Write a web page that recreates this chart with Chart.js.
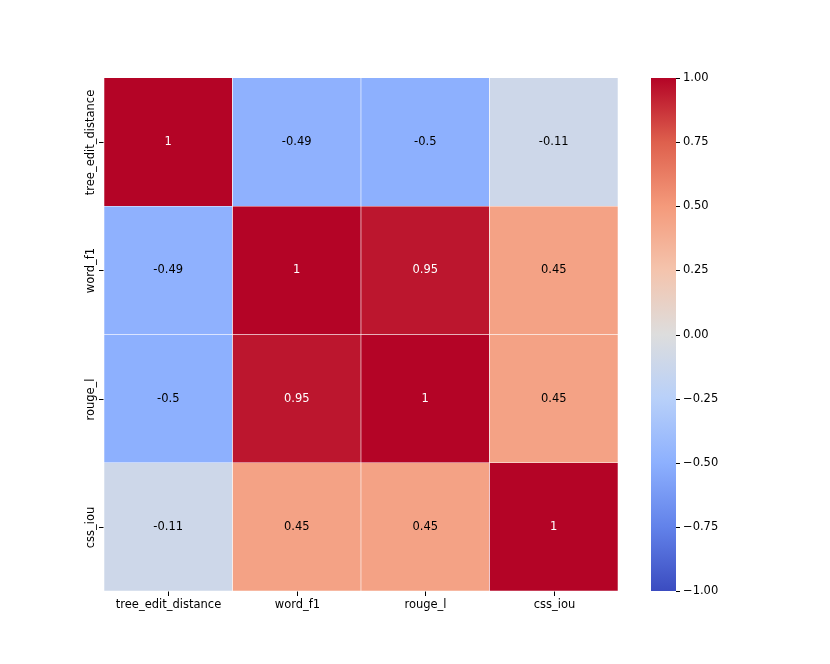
<!DOCTYPE html>
<html>
<head>
<meta charset="utf-8">
<script src="https://cdn.jsdelivr.net/npm/chart.js@4"></script>
<style>
  html, body { margin: 0; padding: 0; background: #fff; }
  #wrap { width: 830px; height: 664px; }
</style>
</head>
<body>
<div id="wrap"><canvas id="heatmap"></canvas></div>
<script>
const metrics = ['tree_edit_distance', 'word_f1', 'rouge_l', 'css_iou'];

// correlation rows
const rowTreeEdit = [1, -0.49, -0.5, -0.11];
const rowWordF1 = [-0.49, 1, 0.95, 0.45];
const rowRougeL = [-0.5, 0.95, 1, 0.45];
const rowCssIou = [-0.11, 0.45, 0.45, 1];
const rows = [rowTreeEdit, rowWordF1, rowRougeL, rowCssIou];

const cbarTicks = [1, 0.75, 0.5, 0.25, 0, -0.25, -0.5, -0.75, -1];

// coolwarm anchors (t from 0 to 1)
const coolwarm = [
  [59, 76, 192], [98, 130, 234], [141, 176, 254], [184, 208, 249],
  [221, 221, 221], [244, 196, 173], [244, 154, 123], [222, 96, 77], [180, 4, 38]
];

function cmap(v) {
  const t = Math.max(0, Math.min(1, (v + 1) / 2)) * (coolwarm.length - 1);
  const i = Math.min(Math.floor(t), coolwarm.length - 2);
  const f = t - i;
  const a = coolwarm[i], b = coolwarm[i + 1];
  const c = a.map((x, k) => Math.round(x + (b[k] - x) * f));
  return `rgb(${c[0]},${c[1]},${c[2]})`;
}

const FONT = '11.5px "DejaVu Sans"';

const datasets = rows.map((row, i) => ({
  label: metrics[i],
  data: row.map(() => 1),
  backgroundColor: row.map(cmap),
  borderColor: '#fff',
  borderWidth: 0.6,
  barPercentage: 1,
  categoryPercentage: 1,
  yAxisID: 'y'
}));

function tick(c, x1, y1, x2, y2) {
  c.beginPath();
  c.moveTo(x1, y1);
  c.lineTo(x2, y2);
  c.stroke();
}

const heatPlugin = {
  id: 'heatExtras',
  afterDraw(chart) {
    const c = chart.ctx;
    const area = chart.chartArea;
    c.save();
    c.setLineDash([]);
    c.font = FONT;
    c.textAlign = 'center';
    c.textBaseline = 'middle';
    // cell annotations
    rows.forEach((row, i) => {
      const meta = chart.getDatasetMeta(i);
      meta.data.forEach((bar, j) => {
        const v = row[j];
        c.fillStyle = Math.abs(v) > 0.6 ? '#fff' : '#000';
        c.fillText(String(Number(v.toPrecision(2))), bar.x, (bar.y + bar.base) / 2);
      });
    });
    c.strokeStyle = '#000';
    c.lineWidth = 1;
    c.fillStyle = '#000';
    // x tick marks + labels
    const xs = chart.scales.x;
    metrics.forEach((m, j) => {
      const px = Math.round(xs.getPixelForValue(j)) + 0.5;
      tick(c, px, area.bottom + 0.5, px, area.bottom + 5);
      c.fillText(m, px, area.bottom + 14);
    });
    // y tick marks + rotated labels
    const ys = chart.scales.y;
    metrics.forEach((m, i) => {
      const py = Math.round(ys.getPixelForValue(i + 0.5)) + 0.5;
      tick(c, area.left - 5, py, area.left - 0.5, py);
      c.save();
      c.translate(area.left - 13, py);
      c.rotate(-Math.PI / 2);
      c.fillText(m, 0, 0);
      c.restore();
    });
    // colorbar
    const cb = chart.scales.cb;
    const x0 = area.right + 33, x1 = area.right + 58;
    const top = cb.getPixelForValue(1), bot = cb.getPixelForValue(-1);
    const g = c.createLinearGradient(0, bot, 0, top);
    coolwarm.forEach((col, k) => g.addColorStop(k / (coolwarm.length - 1), `rgb(${col.join(',')})`));
    c.fillStyle = g;
    c.fillRect(x0, top, x1 - x0, bot - top);
    c.textAlign = 'left';
    c.fillStyle = '#000';
    cbarTicks.forEach(v => {
      const py = Math.round(cb.getPixelForValue(v)) + 0.5;
      tick(c, x1, py, x1 + 4, py);
      c.fillText(v.toFixed(2).replace('-', '\u2212'), x1 + 7, py);
    });
    c.restore();
  }
};

new Chart(document.getElementById('heatmap'), {
  type: 'bar',
  data: { labels: metrics, datasets: datasets },
  options: {
    responsive: true,
    maintainAspectRatio: false,
    animation: false,
    layout: { padding: { left: 104, top: 78, right: 212, bottom: 73 } },
    plugins: { legend: { display: false }, tooltip: { enabled: false } },
    scales: {
      x: {
        stacked: true,
        display: false
      },
      y: {
        stacked: true,
        reverse: true,
        min: 0,
        max: 4,
        display: false
      },
      cb: {
        type: 'linear',
        axis: 'y',
        position: 'right',
        min: -1,
        max: 1,
        display: false
      }
    }
  },
  plugins: [heatPlugin]
});
</script>
</body>
</html>
